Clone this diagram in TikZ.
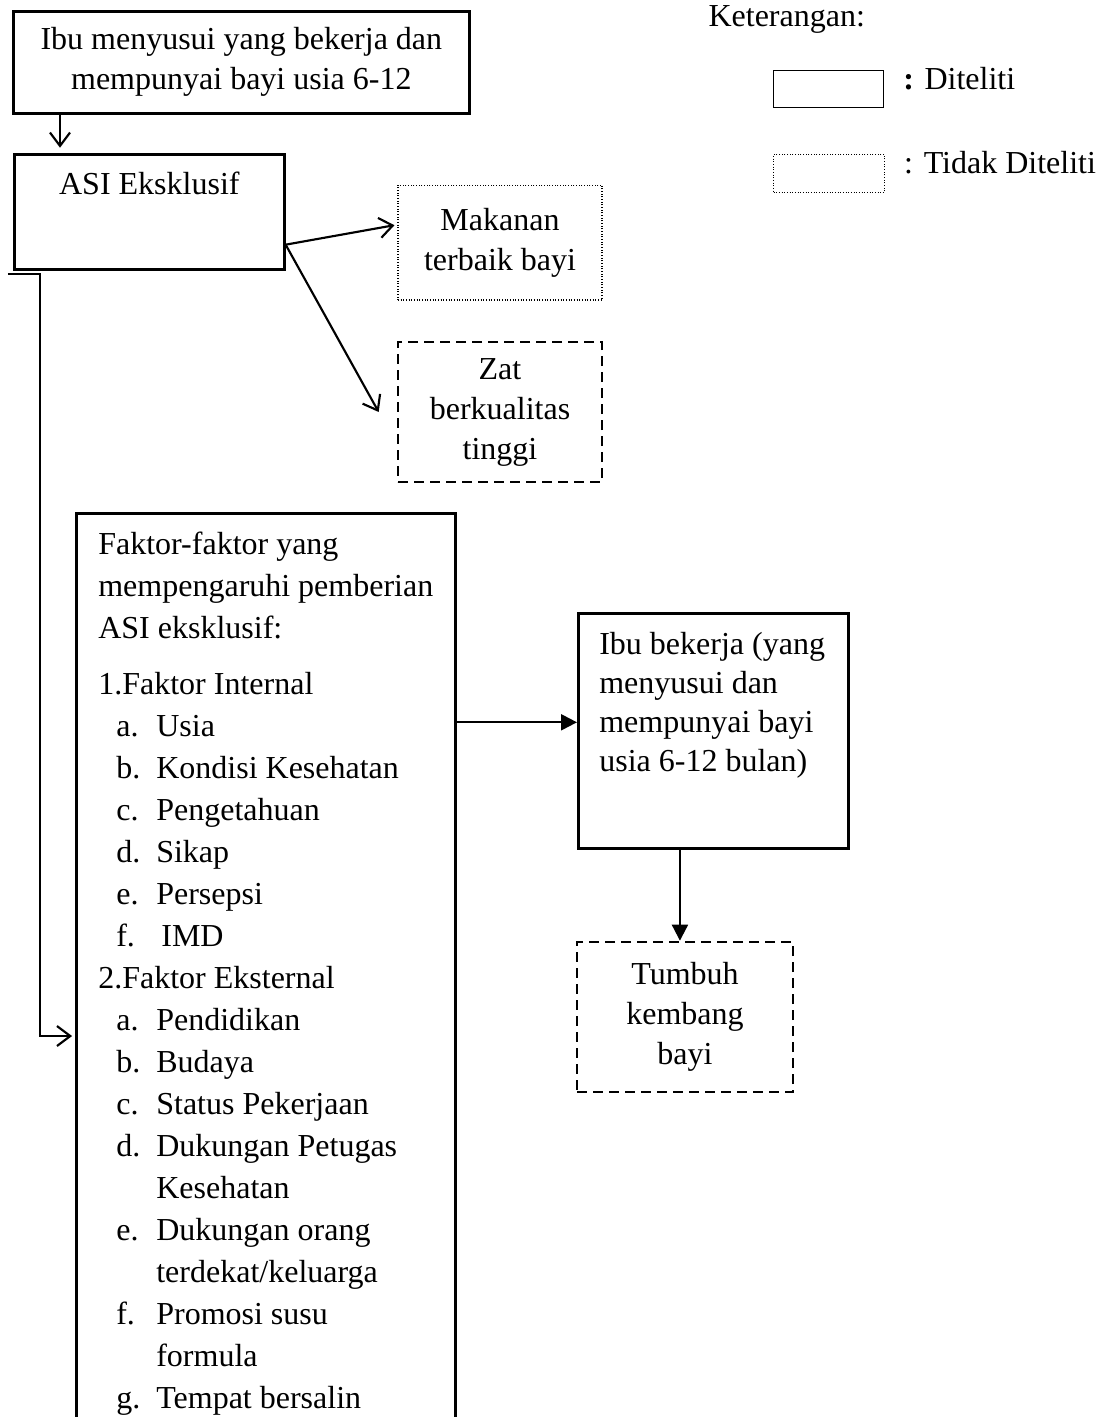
\documentclass[tikz,border=0pt]{standalone}
\usepackage{fontspec}
\setmainfont{Liberation Serif}
\usetikzlibrary{positioning, arrows.meta}

\newcommand{\faktoritem}[2]{\hspace*{6.75pt}\makebox[15pt][l]{#1}#2}
\newcommand{\faktorcont}[1]{\hspace*{21.75pt}#1}

\tikzset{
    box/.style={draw, line width=1pt, inner sep=0pt},
    dashbox/.style={box, dash pattern=on 3.75pt off 2.25pt},
    dotbox/.style={draw, line width=0.4pt, dash pattern=on 0.4pt off 0.6pt, inner sep=0pt},
    openarr/.style={line width=0.8pt, -{Straight Barb[length=5pt, width=7.5pt, line width=0.8pt]}},
    fillarr/.style={line width=0.8pt, -{Triangle[length=6pt, width=6pt]}},
}

\begin{document}
\begin{tikzpicture}[x=0.375pt, y=-0.375pt, every node/.style={font=\fontsize{12}{15}\selectfont}]
    \clip (0,0) rectangle (1097,1417);

    % boxes
    \node[box, anchor=north west, minimum width=171pt, minimum height=38.25pt, align=center] (subjek) at (12,10)
        {Ibu menyusui yang bekerja dan\\mempunyai bayi usia 6-12};
    \node[box, anchor=north west, minimum width=101.25pt, text height=15pt, text depth=28.125pt] (asi) at (13,153)
        {ASI Eksklusif};
    \node[dotbox, minimum width=76.5pt, minimum height=43.1pt, align=center] (makanan) at (500,242.5)
        {Makanan\\terbaik bayi};
    \node[dashbox, minimum width=76.5pt, minimum height=52.5pt, align=center] (zat) at (500,412)
        {Zat\\berkualitas\\tinggi};
    \node[box, anchor=north west, inner xsep=8.25pt, text height=15.375pt, text depth=337.5pt] (faktor) at (75,512)
        {\parbox[t]{125.6pt}{\fontsize{12}{15.75}\selectfont\raggedright
        Faktor-faktor yang\\
        mempengaruhi pemberian\\
        ASI eksklusif:\\[5.25pt]
        1.Faktor Internal\\
        \faktoritem{a.}{Usia}\\
        \faktoritem{b.}{Kondisi Kesehatan}\\
        \faktoritem{c.}{Pengetahuan}\\
        \faktoritem{d.}{Sikap}\\
        \faktoritem{e.}{Persepsi}\\
        \faktoritem{f.}{\hspace{1.9pt}IMD}\\
        2.Faktor Eksternal\\
        \faktoritem{a.}{Pendidikan}\\
        \faktoritem{b.}{Budaya}\\
        \faktoritem{c.}{Status Pekerjaan}\\
        \faktoritem{d.}{Dukungan Petugas}\\
        \faktorcont{Kesehatan}\\
        \faktoritem{e.}{Dukungan orang}\\
        \faktorcont{terdekat/keluarga}\\
        \faktoritem{f.}{Promosi susu}\\
        \faktorcont{formula}\\
        \faktoritem{g.}{Tempat bersalin}}};
    \node[box, anchor=north west, minimum width=101.25pt, text height=15.375pt, text depth=72.75pt] (kerja) at (577,612)
        {\parbox[t]{85.5pt}{\fontsize{12}{14.6}\selectfont\raggedright
        Ibu bekerja (yang\\menyusui dan\\mempunyai bayi\\usia 6-12 bulan)}};
    \node[dashbox, minimum width=81pt, minimum height=56.25pt, align=center] (tumbuh) at (685,1017)
        {Tumbuh\\kembang\\bayi};

    % legend
    \node[anchor=base west, inner sep=0pt] (ket) at (708,27) {Keterangan:};
    \node[draw, line width=0.4pt, inner sep=0pt, anchor=north west, minimum width=41.25pt, minimum height=13.9pt] (legsolid) at (773,70) {};
    \node[right=7pt of legsolid, anchor=base west, inner sep=0pt] (legsolidtext) {\textbf{:} Diteliti};
    \node[dotbox, anchor=north west, minimum width=41.6pt, minimum height=14.25pt] (legdot) at (773,154) {};
    \node[right=7pt of legdot, anchor=base west, inner sep=0pt] (legdottext) {: Tidak Diteliti};

    % connectors
    \draw[openarr, shorten >=2pt] ([xshift=18pt]subjek.south west) -- ([xshift=18pt]subjek.south west |- asi.north);
    \draw[openarr] ([yshift=9.75pt]asi.south east) -- ([xshift=-1.1pt, yshift=6.5pt]makanan.west);
    \draw[openarr] ([yshift=9.75pt]asi.south east) -- ([xshift=-6.75pt]zat.west);
    \draw[openarr] ([xshift=-1.9pt, yshift=-1.1pt]asi.south west) -- ++(12pt,0) |- ([xshift=-1.1pt, yshift=-196.5pt]faktor.north west);
    \coordinate (fk) at ([yshift=3.2pt]kerja.west);
    \draw[fillarr] (faktor.east |- fk) -- (fk);
    \draw[fillarr] ([xshift=-1.9pt]tumbuh.north |- kerja.south) -- ([xshift=-1.9pt]tumbuh.north);
\end{tikzpicture}
\end{document}
